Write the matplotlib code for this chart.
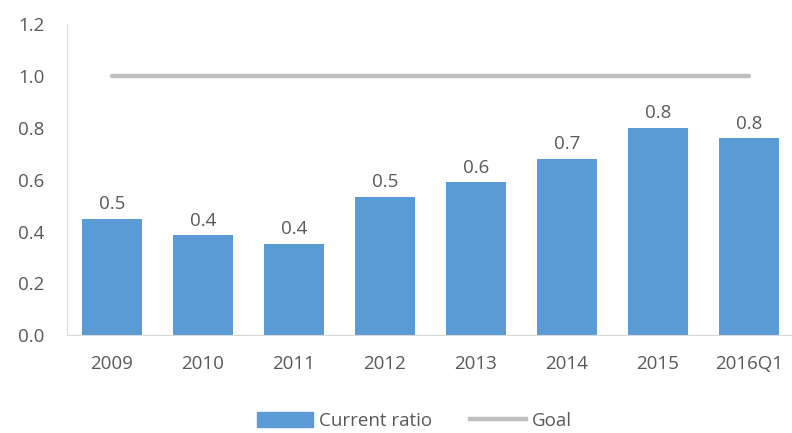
import matplotlib
matplotlib.use("Agg")
import matplotlib.pyplot as plt
from matplotlib.lines import Line2D
from matplotlib.patches import Patch

categories = ["2009", "2010", "2011", "2012", "2013", "2014", "2015", "2016Q1"]
current_ratio = [0.45, 0.385, 0.352, 0.535, 0.59, 0.68, 0.80, 0.76]
goal = [1.0] * len(categories)
yticks = [0.0, 0.2, 0.4, 0.6, 0.8, 1.0, 1.2]

plt.rcParams['font.family'] = ['Open Sans', 'DejaVu Sans']
txt = '#595959'
fig = plt.figure(figsize=(7.92, 4.33), dpi=100)
ax = fig.add_axes([0.084, 0.226, 0.919, 0.718])

x = list(range(len(categories)))
ax.bar(x, current_ratio, width=0.66, color='#5B9BD5', zorder=2)
ax.plot(x, goal, color='#BFBFBF', lw=3.2, solid_capstyle='round', zorder=3)
for xi, v in zip(x, current_ratio):
    ax.text(xi, v + 0.022, f"{v:.1f}", ha='center', va='bottom', fontsize=13.5, color=txt)

ax.set_xlim(-0.5, len(categories) - 0.5)
ax.set_ylim(0, 1.2)
ax.set_yticks(yticks)
ax.set_yticklabels([f"{t:.1f}" for t in yticks])
ax.set_xticks(x)
ax.set_xticklabels(categories)
ax.tick_params(axis='both', length=0, labelsize=13.5, colors=txt)
ax.tick_params(axis='y', pad=16)
ax.tick_params(axis='x', pad=14)
for s in ['top', 'right']:
    ax.spines[s].set_visible(False)
ax.spines['left'].set_color('#D9D9D9')
ax.spines['bottom'].set_color('#D9D9D9')

handles = [Patch(color='#5B9BD5', label='Current ratio'),
           Line2D([0], [0], color='#BFBFBF', lw=3.2, label='Goal')]
fig.legend(handles=handles, loc='center', bbox_to_anchor=(0.523, 0.028), ncol=2,
           frameon=False, fontsize=13.5, labelcolor=txt, handlelength=3.0,
           handleheight=0.8, columnspacing=2.0, handletextpad=0.3)

fig.savefig('out.png', dpi=100)
